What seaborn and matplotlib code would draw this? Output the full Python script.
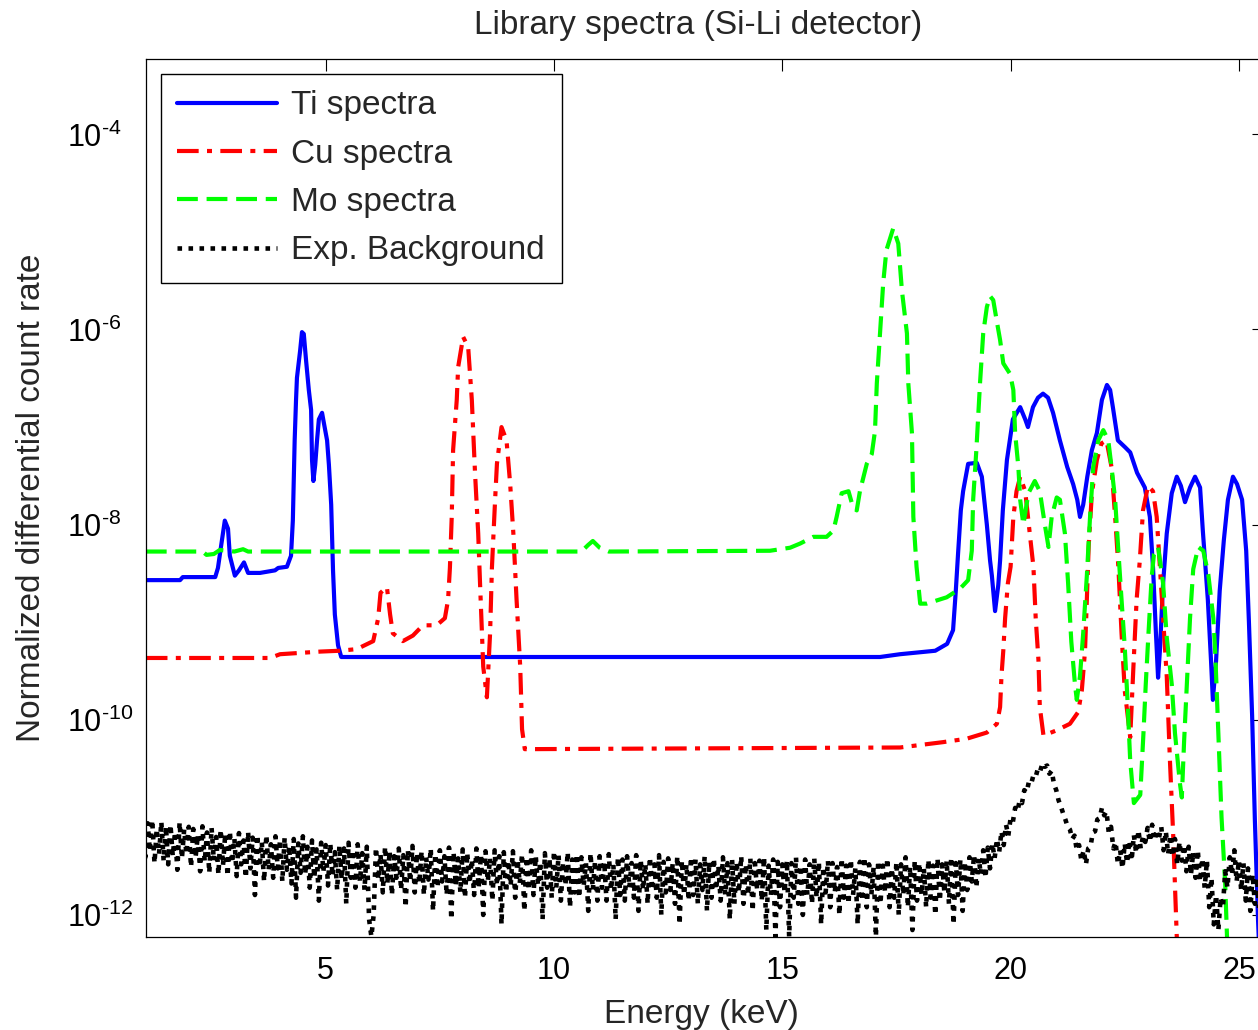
import numpy as np
import pandas as pd
import matplotlib
matplotlib.use("Agg")
import matplotlib.pyplot as plt
import seaborn as sns
from matplotlib.ticker import FixedLocator, FuncFormatter, NullLocator

# ---------------- data ----------------
ti_energy = [1.06, 1.81, 1.87, 2.58, 2.64, 2.71, 2.79, 2.86, 2.90, 3.01,
             3.10, 3.21, 3.30, 3.56, 3.89, 3.96, 4.15, 4.24, 4.28, 4.32,
             4.35, 4.37, 4.44, 4.48, 4.52, 4.57, 4.63, 4.68, 4.70, 4.73,
             4.77, 4.81, 4.85, 4.92, 4.96, 5.03, 5.07, 5.12, 5.16, 5.20,
             5.27, 5.34, 17.14, 17.58, 18.35, 18.61, 18.74, 18.80, 18.85, 18.91,
             18.96, 19.07, 19.26, 19.37, 19.48, 19.55, 19.59, 19.66, 19.73, 19.77,
             19.83, 19.92, 20.05, 20.21, 20.32, 20.38, 20.49, 20.60, 20.71, 20.82,
             20.93, 21.08, 21.24, 21.37, 21.46, 21.52, 21.59, 21.68, 21.78, 21.89,
             22.00, 22.11, 22.18, 22.24, 22.35, 22.51, 22.62, 22.77, 22.94, 23.05,
             23.12, 23.18, 23.23, 23.27, 23.34, 23.42, 23.53, 23.64, 23.73, 23.82,
             23.93, 24.04, 24.15, 24.21, 24.32, 24.39, 24.43, 24.50, 24.58, 24.67,
             24.76, 24.87, 24.96, 25.07, 25.16, 25.22, 25.29, 25.35, 25.42, 25.50]
ti_values = [2.7e-9, 2.7e-9, 2.9e-9, 2.9e-9, 3.6e-9, 6.1e-9, 1.1e-8, 9.1e-9, 4.8e-9, 3.0e-9,
             3.4e-9, 4.1e-9, 3.2e-9, 3.2e-9, 3.4e-9, 3.6e-9, 3.7e-9, 4.8e-9, 1.1e-8, 7.3e-8,
             1.9e-7, 3.2e-7, 6.1e-7, 9.4e-7, 9.0e-7, 4.8e-7, 2.4e-7, 1.5e-7, 4.6e-8, 2.8e-8,
             4.1e-8, 7.3e-8, 1.2e-7, 1.4e-7, 1.1e-7, 7.3e-8, 4.1e-8, 1.6e-8, 3.4e-9, 1.2e-9,
             5.8e-10, 4.4e-10, 4.4e-10, 4.7e-10, 5.1e-10, 6.0e-10, 8.3e-10, 2.1e-9, 5.1e-9, 1.4e-8,
             2.2e-8, 4.2e-8, 4.3e-8, 3.1e-8, 1.0e-8, 4.3e-9, 3.0e-9, 1.3e-9, 2.4e-9, 4.3e-9,
             1.4e-8, 4.6e-8, 1.2e-7, 1.6e-7, 1.2e-7, 1.0e-7, 1.6e-7, 2.0e-7, 2.2e-7, 2.0e-7,
             1.4e-7, 7.3e-8, 3.9e-8, 2.6e-8, 1.8e-8, 1.2e-8, 1.6e-8, 3.1e-8, 5.8e-8, 8.7e-8,
             1.9e-7, 2.7e-7, 2.4e-7, 1.6e-7, 7.3e-8, 6.2e-8, 5.5e-8, 3.4e-8, 2.4e-8, 1.2e-8,
             3.6e-9, 8.3e-10, 2.7e-10, 5.1e-10, 2.5e-9, 8.1e-9, 2.1e-8, 3.1e-8, 2.5e-8, 1.7e-8,
             2.4e-8, 3.1e-8, 2.4e-8, 8.7e-9, 1.7e-9, 4.0e-10, 1.6e-10, 4.0e-10, 2.1e-9, 6.9e-9,
             1.8e-8, 3.1e-8, 2.6e-8, 1.8e-8, 5.4e-9, 1.0e-9, 1.1e-10, 9.4e-12, 8.7e-13, 1.0e-13]

cu_energy = [1.06, 3.78, 4.00, 4.88, 5.31, 5.68, 6.04, 6.15, 6.20, 6.34,
             6.41, 6.47, 6.69, 6.91, 7.13, 7.43, 7.61, 7.68, 7.72, 7.76,
             7.79, 7.87, 7.90, 8.01, 8.12, 8.20, 8.27, 8.34, 8.38, 8.45,
             8.53, 8.60, 8.64, 8.71, 8.75, 8.85, 8.96, 9.04, 9.11, 9.18,
             9.26, 9.30, 9.36, 17.58, 18.52, 19.04, 19.48, 19.70, 19.77, 19.80,
             19.84, 19.88, 19.94, 20.00, 20.06, 20.13, 20.21, 20.32, 20.42, 20.50,
             20.55, 20.61, 20.64, 20.72, 21.01, 21.30, 21.48, 21.56, 21.63, 21.67,
             21.71, 21.78, 21.89, 21.99, 22.10, 22.21, 22.29, 22.36, 22.43, 22.50,
             22.62, 22.69, 22.76, 22.83, 22.90, 23.01, 23.12, 23.20, 23.27, 23.34,
             23.42, 23.49, 23.56, 23.64, 23.70]
cu_values = [4.3e-10, 4.3e-10, 4.7e-10, 5.0e-10, 5.1e-10, 5.3e-10, 6.4e-10, 1.1e-9, 2.0e-9, 2.3e-9,
             1.2e-9, 7.7e-10, 6.4e-10, 7.3e-10, 9.3e-10, 9.3e-10, 1.1e-9, 1.7e-9, 3.6e-9, 1.2e-8,
             5.8e-8, 1.9e-7, 4.1e-7, 8.4e-7, 6.6e-7, 1.9e-7, 3.4e-8, 8.1e-9, 2.5e-9, 3.5e-10,
             1.7e-10, 7.7e-10, 3.6e-9, 1.8e-8, 4.2e-8, 1.0e-7, 7.3e-8, 2.6e-8, 8.1e-9, 1.7e-9,
             3.5e-10, 8.0e-11, 5.0e-11, 5.2e-11, 5.9e-11, 6.4e-11, 7.4e-11, 9.1e-11, 1.35e-10, 2.8e-10,
             5.1e-10, 1.1e-9, 2.5e-9, 3.7e-9, 1.2e-8, 2.2e-8, 3.1e-8, 2.2e-8, 8.1e-9, 3.7e-9,
             1.1e-9, 4.1e-10, 1.35e-10, 6.9e-11, 7.8e-11, 9.1e-11, 1.2e-10, 2.0e-10, 5.1e-10, 1.7e-9,
             6.0e-9, 2.1e-8, 4.6e-8, 6.8e-8, 7.3e-8, 3.9e-8, 1.2e-8, 3.7e-9, 7.7e-10, 2.0e-10,
             6.6e-11, 3.5e-10, 1.7e-9, 4.3e-9, 1.4e-8, 2.5e-8, 2.2e-8, 1.2e-8, 3.7e-9, 1.1e-9,
             2.8e-10, 3.8e-11, 6.8e-12, 5.9e-13, 1.0e-13]

mo_energy = [1.06, 2.30, 2.39, 2.55, 2.68, 3.00, 3.19, 3.30, 10.60, 10.75,
             10.85, 11.00, 11.20, 14.73, 15.17, 15.39, 15.68, 15.97, 16.12, 16.19,
             16.30, 16.45, 16.55, 16.63, 16.70, 16.85, 16.96, 17.03, 17.07, 17.14,
             17.21, 17.28, 17.43, 17.54, 17.62, 17.73, 17.76, 17.84, 17.87, 17.94,
             18.02, 18.16, 18.60, 18.89, 19.07, 19.15, 19.18, 19.25, 19.33, 19.40,
             19.48, 19.55, 19.62, 19.70, 19.77, 19.84, 19.99, 20.06, 20.10, 20.17,
             20.21, 20.28, 20.39, 20.53, 20.64, 20.75, 20.83, 20.90, 21.01, 21.08,
             21.19, 21.26, 21.33, 21.41, 21.45, 21.52, 21.59, 21.67, 21.74, 21.81,
             21.92, 22.03, 22.14, 22.21, 22.29, 22.36, 22.43, 22.50, 22.56, 22.62,
             22.70, 22.84, 22.91, 22.96, 23.02, 23.09, 23.14, 23.23, 23.34, 23.42,
             23.53, 23.60, 23.71, 23.75, 23.80, 23.86, 23.93, 24.00, 24.11, 24.22,
             24.33, 24.44, 24.48, 24.55, 24.62, 24.70, 24.74, 24.80]
mo_values = [5.3e-9, 5.3e-9, 4.9e-9, 5.0e-9, 5.5e-9, 5.3e-9, 5.6e-9, 5.3e-9, 5.3e-9, 6.2e-9,
             6.8e-9, 5.8e-9, 5.3e-9, 5.4e-9, 5.8e-9, 6.4e-9, 7.5e-9, 7.5e-9, 8.7e-9, 1.2e-8,
             2.1e-8, 2.2e-8, 1.5e-8, 1.4e-8, 2.2e-8, 4.2e-8, 5.3e-8, 9.1e-8, 2.8e-7, 9.1e-7,
             3.0e-6, 6.5e-6, 1.09e-5, 7.6e-6, 2.5e-6, 9.1e-7, 2.8e-7, 8.6e-8, 1.2e-8, 3.7e-9,
             1.55e-9, 1.55e-9, 1.8e-9, 2.2e-9, 2.7e-9, 5.4e-9, 1.8e-8, 5.8e-8, 2.8e-7, 9.1e-7,
             1.7e-6, 2.2e-6, 2.0e-6, 1.2e-6, 7.8e-7, 4.5e-7, 3.5e-7, 2.4e-7, 8.6e-8, 3.9e-8,
             1.8e-8, 1.0e-8, 2.1e-8, 2.8e-8, 2.2e-8, 1.0e-8, 5.9e-9, 1.2e-8, 1.9e-8, 1.8e-8,
             8.1e-9, 2.5e-9, 6.3e-10, 2.3e-10, 1.6e-10, 2.8e-10, 7.7e-10, 3.0e-9, 1.2e-8, 3.9e-8,
             7.3e-8, 9.3e-8, 7.3e-8, 3.9e-8, 1.8e-8, 5.4e-9, 1.7e-9, 5.6e-10, 1.6e-10, 3.8e-11,
             1.4e-11, 1.7e-11, 7.3e-11, 2.3e-10, 7.7e-10, 2.9e-9, 5.0e-9, 5.9e-9, 2.5e-9, 7.0e-10,
             2.3e-10, 7.3e-11, 2.2e-11, 1.6e-11, 6.0e-11, 2.3e-10, 1.1e-9, 3.5e-9, 5.9e-9, 5.4e-9,
             3.1e-9, 1.1e-9, 5.1e-10, 7.3e-11, 1.0e-11, 2.1e-12, 5.9e-13, 1.0e-13]

# experimental background (units of 1e-12), one sample every 0.05 keV from 1.00 keV
bg_start_kev = 1.0
bg_step_kev = 0.05
bg_values_e12 = [6.8,
    3.9, 8.7, 4.5, 9.4, 3.4, 7.6, 4.2, 9.0, 3.6, 8.1,
    3.3, 8.4, 4.0, 7.1, 2.9, 8.9, 3.8, 7.5, 4.2, 8.0,
    3.1, 7.6, 3.9, 6.6, 2.8, 8.1, 3.5, 7.0, 2.7, 7.8,
    3.6, 6.3, 2.6, 7.5, 3.2, 6.8, 2.5, 7.2, 3.4, 6.1,
    2.5, 6.9, 3.3, 5.8, 2.4, 7.1, 3.0, 6.2, 1.6, 6.6,
    3.1, 5.6, 2.2, 6.6, 2.9, 5.3, 2.4, 6.4, 3.0, 5.9,
    2.2, 6.2, 2.9, 5.1, 2.1, 6.0, 1.5, 5.4, 2.7, 6.4,
    2.6, 5.0, 1.9, 5.8, 2.4, 4.7, 1.4, 5.5, 2.8, 5.2,
    2.0, 5.4, 2.5, 4.4, 1.8, 5.1, 2.3, 4.8, 1.3, 5.5,
    2.4, 4.6, 1.9, 5.3, 2.2, 4.3, 1.8, 5.0, 0.9, 0.6,
    1.0, 4.9, 2.3, 4.2, 1.7, 5.0, 2.1, 4.5, 1.6, 4.0,
    2.4, 4.8, 1.8, 4.1, 1.2, 4.6, 2.2, 5.1, 1.7, 4.3,
    2.1, 4.5, 1.6, 3.9, 2.3, 4.8, 1.1, 4.2, 1.9, 4.6,
    2.2, 4.0, 1.6, 4.9, 0.9, 4.4, 2.0, 3.8, 1.7, 4.7,
    1.5, 4.3, 2.1, 3.7, 1.6, 4.8, 1.9, 4.1, 1.0, 4.5,
    2.2, 3.8, 1.4, 4.6, 2.0, 4.0, 0.8, 4.4, 1.7, 3.6,
    2.0, 4.5, 1.5, 3.7, 2.1, 4.2, 1.1, 3.9, 1.8, 4.6,
    1.6, 4.0, 2.0, 3.5, 0.9, 4.3, 1.9, 3.8, 1.5, 4.5,
    1.9, 4.1, 1.4, 3.5, 2.0, 4.4, 1.2, 3.7, 1.7, 4.2,
    1.5, 3.9, 2.0, 3.4, 1.1, 4.3, 1.8, 3.6, 1.4, 4.0,
    1.9, 3.5, 1.4, 4.2, 1.8, 3.3, 0.9, 3.9, 1.6, 3.7,
    1.4, 4.0, 1.9, 3.4, 1.5, 4.1, 1.1, 3.6, 1.8, 3.3,
    1.3, 3.9, 1.8, 3.3, 1.5, 4.1, 1.0, 3.5, 1.7, 3.8,
    1.8, 3.4, 1.3, 4.0, 0.8, 3.6, 1.6, 3.3, 1.4, 3.9,
    1.6, 3.7, 1.3, 3.3, 1.8, 4.0, 1.1, 3.5, 1.5, 3.8,
    1.8, 3.2, 1.4, 3.9, 1.6, 3.4, 0.9, 3.7, 1.3, 3.5,
    1.7, 4.0, 1.3, 3.3, 1.6, 3.8, 1.1, 3.4, 1.8, 3.6,
    1.4, 3.9, 0.7, 3.2, 1.6, 3.7, 0.6, 3.5, 1.2, 3.3,
    1.7, 3.6, 0.6, 3.4, 1.5, 3.9, 1.3, 3.2, 1.0, 3.7,
    1.6, 3.3, 1.3, 3.8, 1.5, 3.5, 0.8, 3.1, 1.7, 3.6,
    1.2, 3.4, 1.7, 3.1, 1.0, 3.8, 1.5, 3.2, 1.3, 3.7,
    1.6, 3.0, 0.8, 3.5, 1.4, 3.9, 1.2, 3.3, 1.6, 3.1,
    0.6, 3.6, 1.3, 3.2, 1.7, 3.8, 1.2, 3.0, 1.5, 3.5,
    1.0, 3.3, 1.6, 3.9, 1.2, 3.1, 0.7, 3.6, 1.4, 3.4,
    1.6, 3.0, 1.2, 3.7, 1.5, 3.2, 1.0, 3.8, 1.4, 3.3,
    1.7, 3.6, 1.3, 3.9, 0.8, 3.4, 1.6, 3.7, 1.1, 3.5,
    1.8, 3.9, 2.2, 4.1, 1.9, 3.8, 2.6, 4.6, 2.4, 4.9,
    3.0, 5.4, 3.8, 6.0, 4.4, 7.2, 5.2, 8.4, 6.5, 9.8,
    9.0, 12.5, 11.5, 15, 14, 19, 18, 23, 22, 27,
    26, 32, 30, 36, 33, 34, 28, 30, 22, 19,
    15, 13, 11, 9.5, 8.0, 7.5, 6.0, 6.5, 4.6, 5.2,
    3.6, 4.6, 3.3, 4.8, 5.0, 7.0, 7.2, 9.5, 9.8, 12.5,
    10.5, 11.5, 7.0, 8.0, 4.8, 5.6, 3.3, 4.6, 3.0, 5.4,
    3.4, 5.8, 3.6, 6.6, 4.3, 7.4, 4.8, 6.4, 5.6, 7.8,
    5.6, 8.4, 5.8, 7.0, 6.2, 8.0, 4.6, 7.2, 4.2, 6.6,
    4.0, 6.0, 3.3, 5.6, 3.6, 5.2, 2.8, 5.0, 2.6, 4.4,
    2.4, 4.6, 2.2, 3.8, 1.9, 3.6, 1.2, 2.4, 0.8, 1.6,
    0.7, 1.5, 1.2, 2.8, 1.9, 3.9, 2.6, 4.6, 2.2, 3.6,
    1.8, 3.4, 1.4, 3.0, 1.1, 2.6, 1.3, 2.4, 1.0, 2.2]

series_labels = ["Ti spectra", "Cu spectra", "Mo spectra", "Exp. Background"]
x_tick_values = [5, 10, 15, 20, 25]
y_tick_exponents = [-12, -10, -8, -6, -4]

# ---------------- style ----------------
sns.set_theme(style="white")
plt.rcParams["font.family"] = ["Liberation Sans", "DejaVu Sans"]
plt.rcParams["mathtext.fontset"] = "custom"
plt.rcParams["mathtext.rm"] = "Liberation Sans"
plt.rcParams["mathtext.it"] = "Liberation Sans:italic"
plt.rcParams["mathtext.bf"] = "Liberation Sans:bold"

W, H = 1258, 1030
fig = plt.figure(figsize=(W / 100, H / 100), dpi=100)
ax = fig.add_axes([146 / W, (H - 937) / H, (1264 - 146) / W, (937 - 59) / H])

bg_table = pd.DataFrame({
    "energy": bg_start_kev + bg_step_kev * np.arange(len(bg_values_e12)),
    "value": np.array(bg_values_e12) * 1e-12,
})

lw = 3.0
sns.lineplot(x=ti_energy, y=ti_values, ax=ax, color=(0, 0, 1), lw=lw,
             sort=False, estimator=None, errorbar=None, label=series_labels[0])
sns.lineplot(x=cu_energy, y=cu_values, ax=ax, color=(1, 0, 0), lw=lw,
             linestyle=(0, (5.2, 2.0, 1.2, 2.0)),
             sort=False, estimator=None, errorbar=None, label=series_labels[1])
sns.lineplot(x=mo_energy, y=mo_values, ax=ax, color=(0, 1, 0), lw=lw,
             linestyle=(0, (5.0, 2.1)),
             sort=False, estimator=None, errorbar=None, label=series_labels[2])
sns.lineplot(data=bg_table, x="energy", y="value", ax=ax, color="black", lw=3.3,
             linestyle=(0, (1.0, 1.4)), dash_capstyle="butt",
             sort=False, estimator=None, errorbar=None, label=series_labels[3])

ax.set_yscale("log")
ax.set_xlim(1.064, 25.55)
ax.set_ylim(5.94e-13, 5.92e-4)

ax.xaxis.set_major_locator(FixedLocator(x_tick_values))
ax.xaxis.set_minor_locator(NullLocator())
ax.yaxis.set_major_locator(FixedLocator([10.0 ** e for e in y_tick_exponents]))
ax.yaxis.set_minor_locator(NullLocator())
ax.yaxis.set_major_formatter(
    FuncFormatter(lambda v, p: r"$\mathregular{10^{\text{-}%d}}$" % abs(int(round(np.log10(v))))))
ax.xaxis.set_major_formatter(FuncFormatter(lambda v, p: "%d" % v))

ax.tick_params(axis="both", which="major", direction="in", length=8.5, width=0.8,
               top=True, right=True, colors="black")
ax.tick_params(axis="x", labelsize=22, pad=14)
ax.tick_params(axis="y", labelsize=22, pad=57)
for t in ax.get_yticklabels():
    t.set_horizontalalignment("left")

for s in ax.spines.values():
    s.set_visible(True)
    s.set_color("black")
    s.set_linewidth(0.9)

ax.set_title("Library spectra (Si-Li detector)", fontsize=24, pad=18, x=0.494)
ax.set_xlabel("Energy (keV)", fontsize=24, labelpad=9, x=0.4965)
ax.set_ylabel("Normalized differential count rate", fontsize=24, labelpad=14)

leg = ax.legend(loc="upper left", fontsize=24, frameon=True, fancybox=False,
                edgecolor="black", framealpha=1, borderpad=0.5, labelspacing=0.52,
                handlelength=3.0, handletextpad=0.42, borderaxespad=0.44)
leg.get_frame().set_linewidth(1.0)

fig.savefig("out.png", dpi=100)
